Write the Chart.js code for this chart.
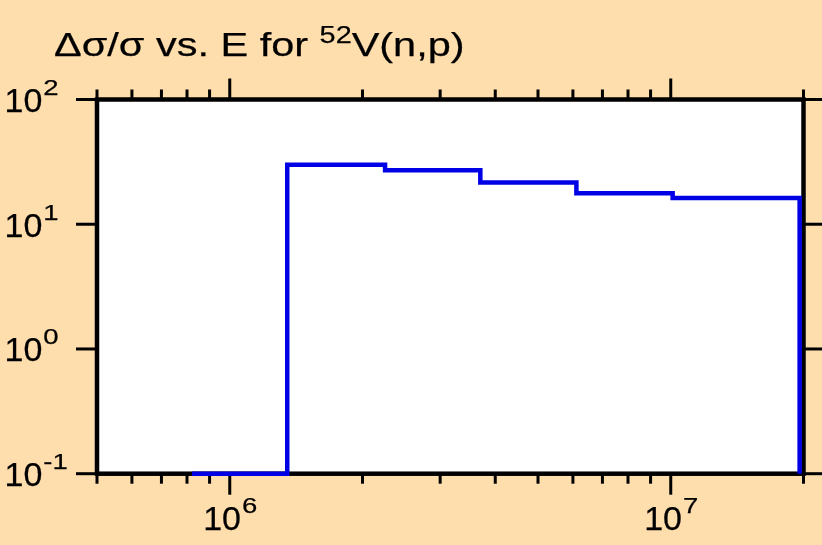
<!DOCTYPE html>
<html><head><meta charset="utf-8">
<script src="https://cdn.jsdelivr.net/npm/chart.js@4"></script>
<style>html,body{margin:0;padding:0;background:#FFDEAD;} canvas{display:block;}</style>
</head><body>
<canvas id="c" width="822" height="545"></canvas>
<script>
// ---- data ----
const energyEdges    = [8.21e5, 1.35e6, 2.25e6, 3.70e6, 6.11e6, 1.01e7, 1.96e7];
const relUncertainty = [0.1, 30.0, 27.1, 21.6, 17.7, 16.2, 0.1];
const xMajorTicks  = [1e6, 1e7];
const xMajorLabels = [['10', '6'], ['10', '7']];
const xMinorTicks  = [5e5, 6e5, 7e5, 8e5, 9e5, 2e6, 3e6, 4e6, 5e6, 6e6, 7e6, 8e6, 9e6, 2e7];
const yMajorTicks  = [0.1, 1, 10, 100];
const yMajorLabels = [['10', '-1'], ['10', '0'], ['10', '1'], ['10', '2']];
const titleParts   = [['\u0394\u03c3/\u03c3 vs. E for ', false], ['52', true], ['V(n,p)', false]];

const FONT = '"Liberation Sans", Arial, Helvetica, sans-serif';
const BG = '#FFDEAD';

function tw(ctx, s, size, sx) { ctx.font = size + 'px ' + FONT; return ctx.measureText(s).width * sx; }
function txt(ctx, s, x, y, size, sx) {
  ctx.font = size + 'px ' + FONT;
  const w = ctx.measureText(s).width * sx;
  ctx.save(); ctx.translate(x, y); ctx.scale(sx, 1);
  ctx.textBaseline = 'alphabetic'; ctx.textAlign = 'left';
  ctx.fillStyle = '#000'; ctx.fillText(s, 0, 0);
  ctx.strokeStyle = '#000'; ctx.lineWidth = 0.25; ctx.strokeText(s, 0, 0);
  ctx.restore();
  return w;
}
function seg(ctx, x1, y1, x2, y2) { ctx.beginPath(); ctx.moveTo(x1, y1); ctx.lineTo(x2, y2); ctx.stroke(); }

const framePlugin = {
  id: 'frame',
  beforeDraw(chart) {
    const ctx = chart.ctx, a = chart.chartArea;
    ctx.save();
    ctx.fillStyle = BG; ctx.fillRect(0, 0, chart.width, chart.height);
    ctx.fillStyle = '#fff'; ctx.fillRect(a.left, a.top, a.right - a.left, a.bottom - a.top);
    ctx.restore();
  },
  beforeDatasetsDraw(chart) {
    const ctx = chart.ctx, a = chart.chartArea;
    const xs = chart.scales.x, ys = chart.scales.y;
    ctx.save();
    ctx.strokeStyle = '#000';
    ctx.lineWidth = 4.5;
    ctx.strokeRect(a.left, a.top, a.right - a.left, a.bottom - a.top);
    ctx.lineWidth = 3;
    xMinorTicks.forEach(v => {
      const p = xs.getPixelForValue(v);
      seg(ctx, p, a.bottom, p, a.bottom + 10);
      seg(ctx, p, a.top, p, a.top - 10);
    });
    xMajorTicks.forEach(v => {
      const p = xs.getPixelForValue(v);
      seg(ctx, p, a.bottom, p, a.bottom + 21);
      seg(ctx, p, a.top, p, a.top - 21);
    });
    yMajorTicks.forEach(v => {
      const p = ys.getPixelForValue(v);
      seg(ctx, a.left, p, a.left - 21, p);
      seg(ctx, a.right, p, a.right + 21, p);
    });
    // y labels
    yMajorTicks.forEach((v, i) => {
      const p = ys.getPixelForValue(v);
      const [m, s] = yMajorLabels[i];
      const w = txt(ctx, m, 4.5, p + 12.5, 34, 1.0);
      txt(ctx, s, 5.5 + w, p - 4.5, 22, 1.25);
    });
    // x labels
    xMajorTicks.forEach((v, i) => {
      const p = xs.getPixelForValue(v);
      const [m, s] = xMajorLabels[i];
      const total = tw(ctx, m, 34, 1.0) + tw(ctx, s, 22, 1.25);
      const x0 = p - total / 2;
      const w = txt(ctx, m, x0, 529.5, 34, 1.0);
      txt(ctx, s, x0 + w + 1, 512.5, 22, 1.25);
    });
    // title
    let x = 54;
    titleParts.forEach(([s, sup]) => {
      x += sup ? txt(ctx, s, x, 43, 24, 1.2) : txt(ctx, s, x, 56, 34, 1.22);
    });
    ctx.restore();
  }
};

new Chart(document.getElementById('c'), {
  type: 'line',
  data: {
    datasets: [{
      data: energyEdges.map((e, i) => ({ x: e, y: relUncertainty[i] })),
      borderColor: '#0000e6',
      borderWidth: 4.5,
      pointRadius: 0,
      stepped: true,
      fill: false,
      clip: false,
      tension: 0
    }]
  },
  options: {
    responsive: false,
    animation: false,
    layout: { padding: { left: 97, right: 18.5, top: 99.5, bottom: 71.3 } },
    plugins: { legend: { display: false }, title: { display: false }, tooltip: { enabled: false } },
    scales: {
      x: { type: 'logarithmic', min: 5e5, max: 2e7, display: false },
      y: { type: 'logarithmic', min: 0.1, max: 100, display: false }
    }
  },
  plugins: [framePlugin]
});
</script>
</body></html>
